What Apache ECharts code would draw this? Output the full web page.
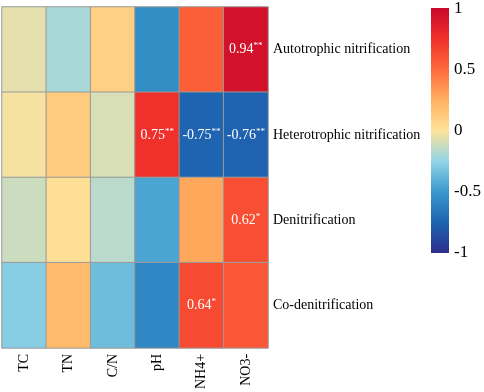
<!DOCTYPE html>
<html>
<head>
<meta charset="utf-8">
<script src="https://cdn.jsdelivr.net/npm/echarts@6/dist/echarts.min.js"></script>
<style>
  html, body { margin: 0; padding: 0; background: #fff; }
  #heatChart { width: 484px; height: 392px; }
</style>
</head>
<body>
<div id="heatChart"></div>
<script>
// categories
var cols = ['TC', 'TN', 'C/N', 'pH', 'NH4+', 'NO3-'];
var rows = ['Autotrophic nitrification', 'Heterotrophic nitrification', 'Denitrification', 'Co-denitrification'];

// correlation values, one array per row
var autoVals   = [-0.06, -0.2, 0.1, -0.55, 0.55, 0.94];
var heteroVals = [-0.02, 0.12, -0.09, 0.75, -0.75, -0.76];
var denitVals  = [-0.12, 0.02, -0.16, -0.45, 0.28, 0.62];
var coVals     = [-0.28, 0.2, -0.35, -0.58, 0.64, 0.58];

// significance marks, '' = not shown
var autoSig   = ['', '', '', '', '', '**'];
var heteroSig = ['', '', '', '**', '**', '**'];
var denitSig  = ['', '', '', '', '', '*'];
var coSig     = ['', '', '', '', '*', ''];

// colour bar tick labels
var barTicks = [-1, -0.5, 0, 0.5, 1];

// palette from -1 to 1
var palette = ['#2D2E8D', '#1E64B0', '#3A98CC', '#92D5E8', '#FFE39A',
               '#FFB060', '#FF6A3C', '#F0302A', '#C8082A'];

var serif = "'Liberation Serif', 'Times New Roman', serif";

var allVals = [autoVals, heteroVals, denitVals, coVals];
var allSig = [autoSig, heteroSig, denitSig, coSig];
var data = [];
for (var r = 0; r < rows.length; r++) {
    for (var c = 0; c < cols.length; c++) {
        data.push({ value: [c, r, allVals[r][c]], sig: allSig[r][c] });
    }
}

// gradient for the colour bar (top = 1)
var stops = palette.map(function (col, i) {
    return { offset: 1 - i / (palette.length - 1), color: col };
}).reverse();

var myChart = echarts.init(document.getElementById('heatChart'));
var option = {
    animation: false,
    grid: [
        { left: 2, top: 7, width: 266, height: 345 },
        { left: 440, top: 8, width: 9, height: 245 }
    ],
    xAxis: [
        {
            type: 'category',
            gridIndex: 0,
            data: cols,
            position: 'bottom',
            axisLine: { show: false },
            axisTick: { show: false },
            splitLine: { show: false },
            axisLabel: {
                rotate: 90,
                margin: 6,
                color: '#000',
                fontSize: 14,
                fontFamily: serif
            }
        },
        {
            type: 'value',
            gridIndex: 1,
            show: false
        }
    ],
    yAxis: [
        {
            type: 'category',
            gridIndex: 0,
            data: rows,
            inverse: true,
            position: 'right',
            axisLine: { show: false },
            axisTick: { show: false },
            splitLine: { show: false },
            axisLabel: {
                margin: 5,
                color: '#000',
                fontSize: 14,
                fontFamily: serif
            }
        },
        {
            type: 'value',
            gridIndex: 1,
            position: 'right',
            min: -1,
            max: 1,
            interval: 0.5,
            axisLine: { show: false },
            axisTick: { show: false },
            splitLine: { show: false },
            axisLabel: {
                margin: 8,
                color: '#000',
                fontSize: 17,
                fontFamily: serif,
                formatter: function (v) {
                    return barTicks.indexOf(v) >= 0 ? String(v) : '';
                }
            }
        }
    ],
    visualMap: {
        type: 'continuous',
        show: false,
        min: -1,
        max: 1,
        seriesIndex: 0,
        inRange: { color: palette }
    },
    graphic: [{
        type: 'rect',
        left: 431,
        top: 8,
        shape: { width: 18, height: 245 },
        style: {
            fill: new echarts.graphic.LinearGradient(0, 0, 0, 1, stops)
        }
    }],
    series: [{
        type: 'heatmap',
        xAxisIndex: 0,
        yAxisIndex: 0,
        data: data,
        itemStyle: {
            borderColor: '#9a9a9a',
            borderWidth: 1
        },
        label: {
            show: true,
            formatter: function (p) {
                if (!p.data.sig) return '';
                return '{v|' + p.value[2].toFixed(2) + '}{s|' + p.data.sig + '}';
            },
            rich: {
                v: { color: '#fff', fontSize: 14, fontFamily: serif, lineHeight: 16 },
                s: { color: '#fff', fontSize: 9, fontFamily: serif, verticalAlign: 'top', lineHeight: 16, padding: [0, 0, 8, 0] }
            }
        },
        emphasis: { disabled: true }
    }]
};
myChart.setOption(option);
</script>
</body>
</html>
